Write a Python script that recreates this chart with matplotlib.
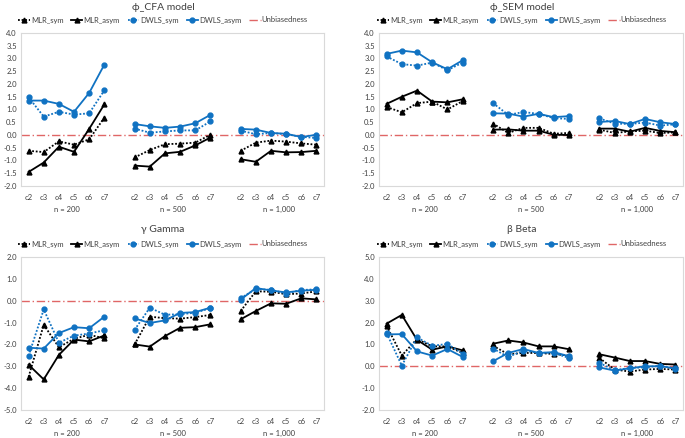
import matplotlib
matplotlib.use("Agg")
import matplotlib.pyplot as plt
from matplotlib.lines import Line2D
import numpy as np

plt.rcParams['font.family'] = ['Lato', 'DejaVu Sans']

categories = ["c2", "c3", "c4", "c5", "c6", "c7"]
groups = ["n = 200", "n = 500", "n = 1,000"]
series_names = ["MLR_sym", "MLR_asym", "DWLS_sym", "DWLS_asym"]

# phi_CFA model: each series = [n=200 values, n=500 values, n=1000 values]
cfa_mlr_sym = [[-0.62, -0.67, -0.25, -0.38, -0.17, 0.68],
               [-0.88, -0.59, -0.36, -0.34, -0.30, 0.01],
               [-0.62, -0.30, -0.22, -0.26, -0.33, -0.38]]
cfa_mlr_asym = [[-1.45, -1.08, -0.46, -0.66, 0.24, 1.20],
                [-1.20, -1.24, -0.72, -0.66, -0.41, -0.10],
                [-0.95, -1.05, -0.62, -0.68, -0.67, -0.62]]
cfa_dwls_sym = [[1.48, 0.72, 0.91, 0.80, 0.85, 1.75],
                [0.25, 0.09, 0.14, 0.18, 0.18, 0.53],
                [0.17, 0.03, 0.08, 0.03, -0.07, -0.12]]
cfa_dwls_asym = [[1.35, 1.35, 1.22, 0.91, 1.65, 2.76],
                 [0.43, 0.34, 0.28, 0.33, 0.46, 0.79],
                 [0.24, 0.21, 0.08, 0.05, -0.08, 0.01]]

# phi_SEM model
sem_mlr_sym = [[1.10, 0.89, 1.25, 1.31, 1.00, 1.33],
               [0.45, 0.08, 0.28, 0.28, 0.05, 0.08],
               [0.21, 0.08, 0.14, 0.17, 0.08, 0.10]]
sem_mlr_asym = [[1.22, 1.50, 1.74, 1.31, 1.28, 1.40],
                [0.21, 0.22, 0.17, 0.17, 0.01, 0.00],
                [0.25, 0.25, 0.13, 0.28, 0.16, 0.11]]
sem_dwls_sym = [[3.08, 2.78, 2.72, 2.84, 2.54, 2.84],
                [1.25, 0.79, 0.90, 0.83, 0.66, 0.63],
                [0.65, 0.45, 0.43, 0.49, 0.37, 0.42]]
sem_dwls_asym = [[3.18, 3.31, 3.24, 2.85, 2.58, 2.93],
                 [0.85, 0.84, 0.72, 0.83, 0.70, 0.74],
                 [0.51, 0.55, 0.43, 0.63, 0.50, 0.43]]

# gamma Gamma
gam_mlr_sym = [[-3.49, -1.10, -2.13, -1.74, -1.56, -1.72],
               [-2.00, -0.73, -0.80, -0.82, -0.75, -0.65],
               [-0.47, 0.43, 0.41, 0.30, 0.33, 0.43]]
gam_mlr_asym = [[-2.93, -3.60, -2.48, -1.78, -1.86, -1.59],
                [-2.00, -2.10, -1.62, -1.24, -1.21, -1.08],
                [-0.85, -0.47, -0.12, -0.14, 0.11, 0.06]]
gam_dwls_sym = [[-2.52, -0.40, -1.92, -1.60, -1.50, -1.35],
                [-1.33, -0.32, -0.64, -0.62, -0.55, -0.34],
                [0.12, 0.53, 0.50, 0.33, 0.49, 0.52]]
gam_dwls_asym = [[-2.15, -2.19, -1.48, -1.21, -1.26, -0.73],
                 [-0.81, -1.02, -0.90, -0.56, -0.52, -0.32],
                 [0.05, 0.58, 0.47, 0.38, 0.46, 0.50]]

# beta Beta
bet_mlr_sym = [[1.85, 0.49, 1.25, 0.91, 0.91, 0.61],
               [0.94, 0.55, 0.61, 0.61, 0.56, 0.49],
               [0.38, -0.15, -0.24, -0.15, -0.12, -0.15]]
bet_mlr_asym = [[1.95, 2.35, 1.21, 0.76, 0.91, 0.73],
                [1.03, 1.18, 1.09, 0.91, 0.91, 0.78],
                [0.55, 0.40, 0.24, 0.24, 0.11, 0.08]]
bet_dwls_sym = [[1.52, 0.03, 1.32, 0.94, 1.02, 0.58],
                [0.81, 0.43, 0.71, 0.62, 0.61, 0.38],
                [0.15, -0.18, -0.08, -0.05, 0.03, -0.12]]
bet_dwls_asym = [[1.46, 1.47, 0.68, 0.49, 0.79, 0.43],
                 [0.23, 0.61, 0.79, 0.61, 0.65, 0.46],
                 [-0.05, -0.20, -0.09, 0.00, 0.00, -0.09]]

panels = [
    ("ϕ_CFA model", [cfa_mlr_sym, cfa_mlr_asym, cfa_dwls_sym, cfa_dwls_asym], (-2.0, 4.0), 0.5),
    ("ϕ_SEM model", [sem_mlr_sym, sem_mlr_asym, sem_dwls_sym, sem_dwls_asym], (-2.0, 4.0), 0.5),
    ("γ Gamma", [gam_mlr_sym, gam_mlr_asym, gam_dwls_sym, gam_dwls_asym], (-5.0, 2.0), 1.0),
    ("β Beta", [bet_mlr_sym, bet_mlr_asym, bet_dwls_sym, bet_dwls_asym], (-2.0, 5.0), 1.0),
]

BLUE = "#1072C2"
RED = "#E06666"
TXT = "#404040"
styles = [
    dict(color="black", ls=(0, (1, 1)), marker="^"),
    dict(color="black", ls="-", marker="^"),
    dict(color=BLUE, ls=(0, (1, 1)), marker="o"),
    dict(color=BLUE, ls="-", marker="o"),
]

W, H = 685, 438
fig = plt.figure(figsize=(W / 100, H / 100), dpi=100)

# pixel rectangles of plot areas: (left, top, right, bottom)
rects = [(21, 33, 324, 186), (379, 33, 683, 186), (21, 257, 324, 410), (379, 257, 683, 410)]
title_x = [163, 522, 163, 522]
title_y = [8, 8, 229, 229]
legend_y = [20, 20, 244, 244]

for k, (title, data, ylim, step) in enumerate(panels):
    l, t, r, b = rects[k]
    ax = fig.add_axes([l / W, 1 - b / H, (r - l) / W, (b - t) / H])
    for s, (vals, st) in enumerate(zip(data, styles)):
        for g in range(3):
            xs = [g * 7 + i for i in range(len(categories))]
            ax.plot(xs, vals[g], color=st["color"], ls=st["ls"], marker=st["marker"],
                    markersize=3.5, lw=1.3, zorder=3 + s)
    ax.axhline(0, color=RED, ls=(0, (6, 2, 1, 2)), lw=1.0, zorder=2)
    ax.set_xlim(-0.5, 19.5)
    ax.set_ylim(*ylim)
    yt = np.arange(ylim[0], ylim[1] + step / 2, step)
    ax.set_yticks(yt)
    ax.set_yticklabels([f"{v:.1f}" for v in yt])
    xt = [g * 7 + i for g in range(3) for i in range(len(categories))]
    ax.set_xticks(xt)
    ax.set_xticklabels(categories * 3)
    ax.tick_params(axis="both", length=0, labelsize=5.5, colors=TXT)
    ax.tick_params(axis="x", pad=6)
    ax.tick_params(axis="y", pad=3)
    for sp in ax.spines.values():
        sp.set_color("#D9D9D9")
        sp.set_linewidth(0.8)
    for g in range(3):
        ax.annotate(groups[g], xy=(g * 7 + 2.5, 0), xycoords=("data", "axes fraction"),
                    xytext=(0, -17), textcoords="offset points", ha="center", va="center",
                    fontsize=5.5, color=TXT)
    fig.text(title_x[k] / W, 1 - title_y[k] / H, title, ha="center", va="center",
             fontsize=7.5, color=TXT)
    handles = [Line2D([], [], color=st["color"], ls=st["ls"], marker=st["marker"],
                      markersize=3.5, lw=1.3) for st in styles]
    handles.append(Line2D([], [], color=RED, ls=(0, (6, 2, 1, 2)), lw=1.0))
    fig.legend(handles, series_names + ["Unbiasedness"], loc="center",
               bbox_to_anchor=(title_x[k] / W, 1 - legend_y[k] / H), ncol=5,
               frameon=False, fontsize=5.5, handlelength=1.5, handletextpad=0.15,
               columnspacing=1.0, labelcolor=TXT, borderpad=0.1)

fig.savefig("out.png", dpi=100)
